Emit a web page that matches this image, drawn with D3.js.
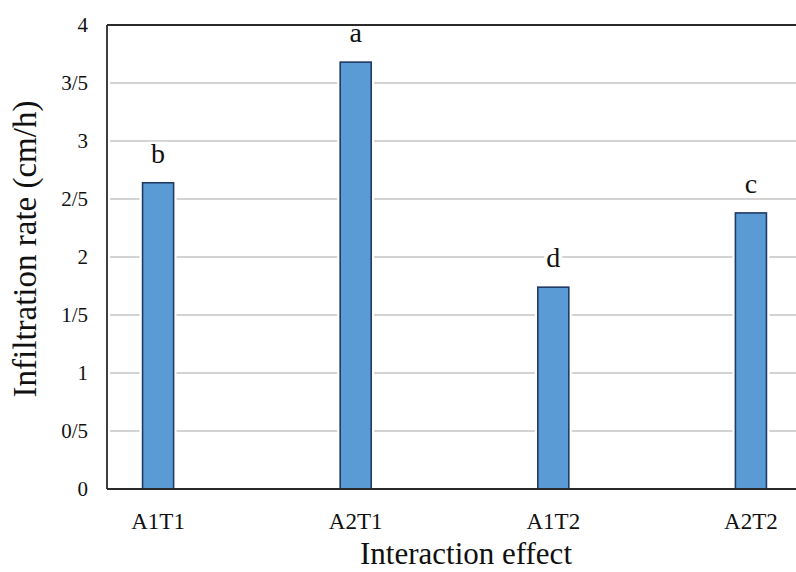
<!DOCTYPE html>
<html>
<head>
<meta charset="utf-8">
<script src="https://cdn.jsdelivr.net/npm/d3@7"></script>
<style>
  html, body { margin: 0; padding: 0; background: #fff; }
  svg { display: block; }
</style>
</head>
<body>
<svg id="chart" width="796" height="572"></svg>
<script>
// Infiltration rate by treatment combination
const categories = ["A1T1", "A2T1", "A1T2", "A2T2"];
const rates = [2.64, 3.68, 1.74, 2.38];
const groupLetters = ["b", "a", "d", "c"];
const tickValues = [0, 0.5, 1, 1.5, 2, 2.5, 3, 3.5, 4];
const tickLabels = ["0", "0/5", "1", "1/5", "2", "2/5", "3", "3/5", "4"];

const W = 796, H = 572;
const plot = { left: 107, right: 802, top: 25, bottom: 489 };
const SERIF = "'Liberation Serif'";

const svg = d3.select("#chart");

const x = d3.scaleBand()
  .domain(categories)
  .range([plot.left, plot.right])
  .paddingInner(0.843)
  .paddingOuter(0.18);

const y = d3.scaleLinear()
  .domain([0, 4])
  .range([plot.bottom, plot.top]);

// horizontal gridlines
svg.append("g")
  .selectAll("line")
  .data(tickValues.filter(v => v > 0 && v < 4))
  .join("line")
  .attr("x1", plot.left + 3)
  .attr("x2", W)
  .attr("y1", d => y(d))
  .attr("y2", d => y(d))
  .attr("stroke", "#c4c4c4")
  .attr("stroke-width", 1.6);

// white halo around bars where they cross gridlines
svg.append("g")
  .selectAll("rect")
  .data(categories)
  .join("rect")
  .attr("x", d => x(d) - 3)
  .attr("width", x.bandwidth() + 6)
  .attr("y", (d, i) => y(rates[i]))
  .attr("height", (d, i) => plot.bottom - y(rates[i]))
  .attr("fill", "#fff");

// bars
svg.append("g")
  .selectAll("rect")
  .data(categories)
  .join("rect")
  .attr("x", d => x(d))
  .attr("width", x.bandwidth())
  .attr("y", (d, i) => y(rates[i]))
  .attr("height", (d, i) => plot.bottom - y(rates[i]))
  .attr("fill", "#5b9bd5")
  .attr("stroke", "#1f3a63")
  .attr("stroke-width", 1.6);

// group letters above bars, on a white patch
const letterG = svg.append("g");
categories.forEach((c, i) => {
  const cx = x(c) + x.bandwidth() / 2;
  const by = y(rates[i]) - 20;
  letterG.append("rect")
    .attr("x", cx - 9).attr("width", 18)
    .attr("y", by - 21).attr("height", 24)
    .attr("fill", "#fff");
  letterG.append("text")
    .attr("x", cx)
    .attr("y", by)
    .attr("text-anchor", "middle")
    .attr("font-family", SERIF)
    .attr("fill", "#111")
    .attr("font-size", 28)
    .text(groupLetters[i]);
});

// plot frame: left, top and bottom lines (right side runs off the page)
svg.append("line")
  .attr("x1", plot.left).attr("x2", W)
  .attr("y1", plot.top).attr("y2", plot.top)
  .attr("stroke", "#2a2a2a").attr("stroke-width", 2);
svg.append("line")
  .attr("x1", plot.left).attr("x2", plot.left)
  .attr("y1", plot.top).attr("y2", plot.bottom)
  .attr("stroke", "#2a2a2a").attr("stroke-width", 1.8);
svg.append("line")
  .attr("x1", plot.left).attr("x2", W)
  .attr("y1", plot.bottom).attr("y2", plot.bottom)
  .attr("stroke", "#2a2a2a").attr("stroke-width", 2);

// y tick labels
svg.append("g")
  .selectAll("text")
  .data(tickValues)
  .join("text")
  .attr("x", 88)
  .attr("y", d => y(d))
  .attr("dy", "0.35em")
  .attr("text-anchor", "end")
  .attr("font-family", SERIF)
  .attr("fill", "#111")
  .attr("font-size", 21)
  .text((d, i) => tickLabels[i]);

// category labels
svg.append("g")
  .selectAll("text")
  .data(categories)
  .join("text")
  .attr("x", d => x(d) + x.bandwidth() / 2)
  .attr("y", 529)
  .attr("text-anchor", "middle")
  .attr("font-family", SERIF)
  .attr("fill", "#111")
  .attr("font-size", 23)
  .text(d => d);

// axis titles
svg.append("text")
  .attr("x", 466)
  .attr("y", 564)
  .attr("text-anchor", "middle")
  .attr("font-family", SERIF)
  .attr("fill", "#111")
  .attr("font-size", 31)
  .text("Interaction effect");

svg.append("text")
  .attr("transform", "translate(36,249) rotate(-90)")
  .attr("text-anchor", "middle")
  .attr("font-family", SERIF)
  .attr("fill", "#111")
  .attr("font-size", 33)
  .text("Infiltration rate (cm/h)");
</script>
</body>
</html>
